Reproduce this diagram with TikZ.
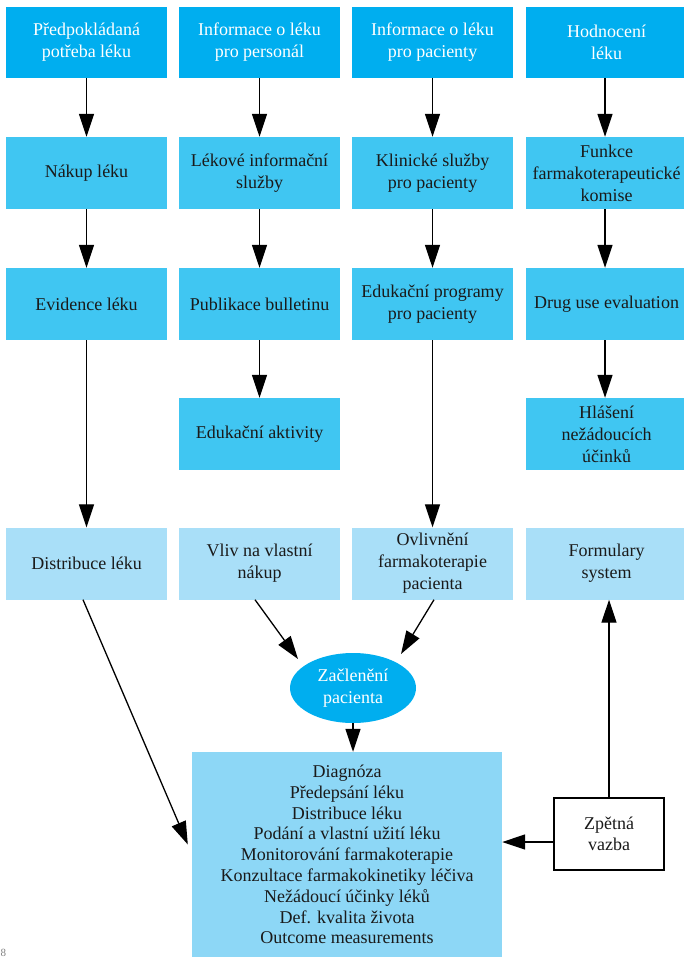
\documentclass[tikz,border=0pt]{standalone}
\usepackage{fontspec}
\setmainfont{Liberation Serif}
\usetikzlibrary{arrows.meta,calc,shapes.geometric}
\definecolor{cA}{HTML}{00AEEF}
\definecolor{cB}{HTML}{40C6F2}
\definecolor{cC}{HTML}{A9DFF8}
\definecolor{cD}{HTML}{8DD7F6}
\definecolor{txt}{HTML}{1A1A1A}
\begin{document}
\begin{tikzpicture}[x=1pt,y=-1pt]
\tikzset{
 boxbase/.style={rectangle, inner sep=0pt, minimum width=161pt, minimum height=72pt, align=center, font=\fontsize{18}{22}\selectfont, text=txt},
 topbox/.style={boxbase, fill=cA, text=white, minimum height=71pt},
 midbox/.style={boxbase, fill=cB},
 lowbox/.style={boxbase, fill=cC},
 arr/.style={-{Triangle[length=23pt,width=15pt]}, line width=1.3pt, draw=black},
}
\useasboundingbox (0,0) rectangle (684,957);
% row 1
\node[topbox] (a1) at (86.5,42.5) {Předpokládaná\\potřeba léku};
\node[topbox] (b1) at (259.5,42.5) {Informace o léku\\pro personál};
\node[topbox] (c1) at (432.5,42.5) {Informace o léku\\pro pacienty};
\node[topbox] (d1) at (606.5,42.5) {Hodnocení\\léku};
% row 2
\node[midbox] (a2) at (86.5,173) {Nákup léku};
\node[midbox] (b2) at (259.5,173) {Lékové informační\\služby};
\node[midbox] (c2) at (432.5,173) {Klinické služby\\pro pacienty};
\node[midbox] (d2) at (606.5,173) {Funkce\\farmakoterapeutické\\komise};
% row 3
\node[midbox] (a3) at (86.5,304) {Evidence léku};
\node[midbox] (b3) at (259.5,304) {Publikace bulletinu};
\node[midbox] (c3) at (432.5,304) {Edukační programy\\pro pacienty};
\node[midbox] (d3) at (606.5,304) {Drug use evaluation};
% row 4
\node[midbox] (b4) at (259.5,434) {Edukační aktivity};
\node[midbox] (d4) at (606.5,434) {Hlášení\\nežádoucích\\účinků};
% row 5
\node[lowbox] (a5) at (86.5,563.5) {Distribuce léku};
\node[lowbox] (b5) at (259.5,563.5) {Vliv na vlastní\\nákup};
\node[lowbox] (c5) at (432.5,563.5) {Ovlivnění\\farmakoterapie\\pacienta};
\node[lowbox] (d5) at (606.5,563.5) {Formulary\\system};
% ellipse
\node[ellipse, fill=cA, text=white, inner sep=0pt, minimum width=126pt, minimum height=70pt, align=center, font=\fontsize{18}{22}\selectfont] (ell) at (353,688) {Začlenění\\pacienta};
% big box
\node[rectangle, fill=cD, text=txt, inner sep=0pt, minimum width=310pt, minimum height=205pt, align=center, font=\fontsize{18}{20.8}\selectfont] (big) at (347,854.5) {Diagnóza\\Předepsání léku\\Distribuce léku\\Podání a vlastní užití léku\\Monitorování farmakoterapie\\Konzultace farmakokinetiky léčiva\\Nežádoucí účinky léků\\Def. kvalita života\\Outcome measurements};
% feedback
\node[rectangle, draw=black, line width=1.3pt, fill=white, text=txt, inner sep=0pt, minimum width=110pt, minimum height=72pt, align=center, font=\fontsize{18}{21}\selectfont] (zp) at (609,834) {Zpětná\\vazba};
% page number fragment
\node[text=gray, anchor=south west, inner sep=0.5pt, font=\fontsize{11}{11}\selectfont] (pg) at (0,957) {8};
% column arrows
\draw[arr] (a1.south) -- (a2.north);
\draw[arr] (a2.south) -- (a3.north);
\draw[arr] (a3.south) -- (a5.north);
\draw[arr] (b1.south) -- (b2.north);
\draw[arr] (b2.south) -- (b3.north);
\draw[arr] (b3.south) -- (b4.north);
\draw[arr] (c1.south) -- (c2.north);
\draw[arr] (c2.south) -- (c3.north);
\draw[arr] (c3.south) -- (c5.north);
\draw[arr] ([xshift=-1.5pt]d1.south) -- ([xshift=-1.5pt]d2.north);
\draw[arr] ([xshift=-1.5pt]d2.south) -- ([xshift=-1.5pt]d3.north);
\draw[arr] ([xshift=-1.5pt]d3.south) -- ([xshift=-1.5pt]d4.north);
% lower arrows
\draw[arr] ([xshift=-3.5pt]a5.south) -- ($(big.west)+(-4,-10)$);
\draw[arr] ([xshift=-4.5pt]b5.south) -- ($(ell.center)+(-55,-29)$);
\draw[arr] ([xshift=1.5pt]c5.south) -- ($(ell.center)+(48,-34)$);
\draw[arr] (ell.south) -- (ell.south |- big.north);
\draw[arr] ([yshift=-8pt]zp.west) -- ([yshift=-8pt]zp.west -| big.east);
\draw[arr] (zp.north) -- (zp.north |- d5.south);
\end{tikzpicture}
\end{document}
